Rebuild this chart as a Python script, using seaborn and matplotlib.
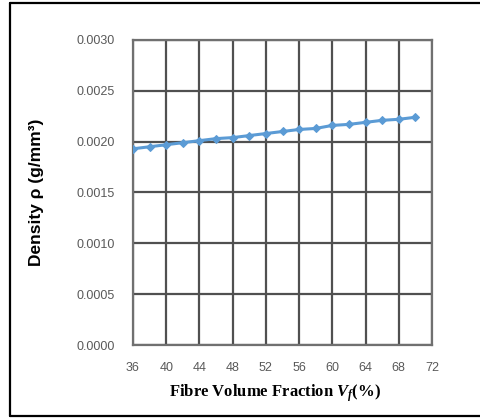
import matplotlib
matplotlib.use("Agg")
import matplotlib.pyplot as plt
import seaborn as sns
import pandas as pd
from matplotlib.lines import Line2D

fibre_volume = [36, 38, 40, 42, 44, 46, 48, 50, 52, 54, 56, 58, 60, 62, 64, 66, 68, 70]
density = [0.00193, 0.00195, 0.00197, 0.00199, 0.00201, 0.00203, 0.00204, 0.00206,
           0.00208, 0.00210, 0.00212, 0.00213, 0.00216, 0.00217, 0.00219, 0.00221,
           0.00222, 0.00224]
x_ticks = [36, 40, 44, 48, 52, 56, 60, 64, 68, 72]
y_ticks = [0.0, 0.0005, 0.0010, 0.0015, 0.0020, 0.0025, 0.0030]

df = pd.DataFrame({"Vf": fibre_volume, "rho": density})

sns.set_theme(style="white")
plt.rcParams["font.family"] = ["Liberation Sans", "DejaVu Sans"]
plt.rcParams["mathtext.fontset"] = "custom"
plt.rcParams["mathtext.it"] = "Liberation Serif:italic:bold"
plt.rcParams["mathtext.rm"] = "Liberation Serif:bold"

fig = plt.figure(figsize=(4.81, 4.19), dpi=100)
ax = fig.add_axes([133/481, 1-345/419, (432-133)/481, (345-40)/419])

sns.lineplot(data=df, x="Vf", y="rho", ax=ax, color="#5B9BD5", linewidth=2.2,
             marker="D", markersize=4.5, markeredgecolor="#5B9BD5", zorder=5)

ax.set_xlim(36, 72)
ax.set_ylim(0, 0.0030)
ax.set_xticks(x_ticks)
ax.set_yticks(y_ticks)
ax.set_xticklabels([str(v) for v in x_ticks])
ax.set_yticklabels([f"{v:.4f}" for v in y_ticks])
ax.tick_params(axis="both", labelsize=9, colors="#595959", length=0)
ax.tick_params(axis="y", pad=13)
ax.tick_params(axis="x", pad=12)

ax.grid(True, color="#505050", linewidth=1.6)
ax.set_axisbelow(True)
for s in ax.spines.values():
    s.set_color("#707070")
    s.set_linewidth(1.6)

ax.set_ylabel("Density ρ (g/mm³)", fontsize=12.5, fontweight="bold", color="black")
ax.yaxis.set_label_coords(-(133-37)/299, 0.5)
ax.set_xlabel(r"Fibre Volume Fraction $\mathit{V_f}$(%)", fontsize=12, fontweight="bold",
              family="Liberation Serif", color="black")
ax.xaxis.set_label_coords((275-133)/299, -(393-345)/305, transform=ax.transAxes)
ax.xaxis.label.set_va("center")
ax.yaxis.label.set_va("center")

top = 1 - 3/419
bot = 1 - 416/419
lx = 10/481
for xs, ys in [([lx, lx], [bot, top]), ([lx, 1.0], [top, top]), ([lx, 1.0], [bot, bot])]:
    fig.add_artist(Line2D(xs, ys, transform=fig.transFigure, color="black", linewidth=1.6))

fig.savefig("out.png", dpi=100)
